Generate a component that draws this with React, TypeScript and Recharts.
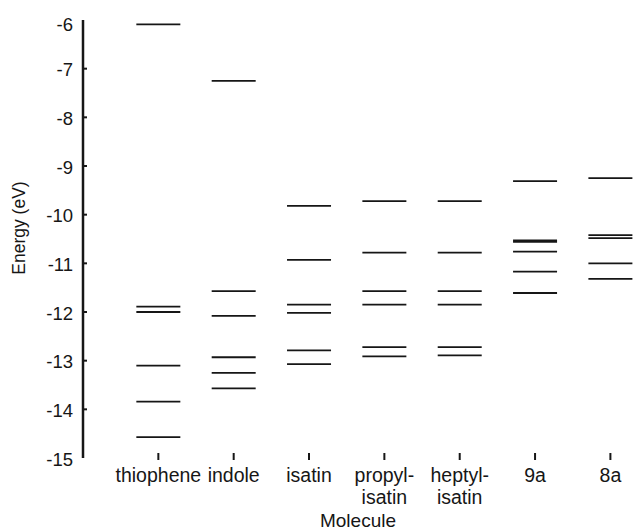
import React from "react";
import { ScatterChart, Scatter, XAxis, YAxis, Label } from "recharts";

// molecule names (newline = second line of the tick label)
const molecules = ["thiophene", "indole", "isatin", "propyl-\nisatin", "heptyl-\nisatin", "9a", "8a"];

// orbital energies in eV
const thiophene = [-6.09, -11.89, -12.0, -13.1, -13.84, -14.57];
const indole = [-7.25, -11.57, -12.08, -12.93, -13.25, -13.57];
const isatin = [-9.82, -10.93, -11.85, -12.02, -12.79, -13.07];
const propylIsatin = [-9.72, -10.78, -11.57, -11.85, -12.72, -12.91];
const heptylIsatin = [-9.72, -10.78, -11.57, -11.85, -12.72, -12.89];
const mol9a = [-9.31, -10.53, -10.56, -10.76, -11.17, -11.61];
const mol8a = [-9.25, -10.42, -10.48, -11.0, -11.32];

const yTicks = [-15, -14, -13, -12, -11, -10, -9, -8, -7, -6];
const xTicks = [1, 2, 3, 4, 5, 6, 7];

const levels = [thiophene, indole, isatin, propylIsatin, heptylIsatin, mol9a, mol8a];
const points = levels.flatMap((vals, i) => vals.map((e) => ({ x: i + 1, y: e })));

const FONT = '"Liberation Sans", Arial, Helvetica, sans-serif';
const INK = "#161616";

const LevelLine = (props: any) => {
  const { cx, cy } = props;
  return <line x1={cx - 22} x2={cx + 22} y1={cy} y2={cy} stroke={INK} strokeWidth={1.8} />;
};

const YTick = (props: any) => {
  const { x, y, payload } = props;
  const v = payload.value;
  const edge = v === -15 || v === -6;
  return (
    <g>
      {!edge && <line x1={x} x2={x + 4} y1={y} y2={y} stroke={INK} strokeWidth={2} />}
      <text x={x - 10} y={y} dy={v === -6 ? 4 : 1} textAnchor="end" dominantBaseline="central"
        fontFamily={FONT} fontSize={18.5} fill={INK}>
        {v}
      </text>
    </g>
  );
};

const XTick = (props: any) => {
  const { x, y, payload } = props;
  const lines = molecules[payload.value - 1].split("\n");
  return (
    <g>
      <line x1={x} x2={x} y1={y - 5} y2={y + 2} stroke={INK} strokeWidth={2} />
      {lines.map((t, i) => (
        <text key={i} x={x} y={y + 24 + i * 21.5} textAnchor="middle" fontFamily={FONT} fontSize={19.5} fill={INK}>
          {t}
        </text>
      ))}
    </g>
  );
};

export default function App() {
  return (
    <div style={{ position: "absolute", left: 0, top: 0, width: 634, height: 532, background: "#fff" }}>
      <ScatterChart width={634} height={532} margin={{ top: 20, right: 1, bottom: 0, left: 0 }}>
        <XAxis type="number" dataKey="x" domain={[0, 7.3]} ticks={xTicks} interval={0}
          axisLine={false} tickLine={false} tickSize={0} tickMargin={0} height={74} tick={<XTick />}>
          <Label value="Molecule" position="insideBottom" offset={5}
            style={{ fontFamily: FONT, fontSize: 19, fill: INK }} />
        </XAxis>
        <YAxis type="number" dataKey="y" domain={[-15, -6]} ticks={yTicks} interval={0} width={83}
          axisLine={{ stroke: INK, strokeWidth: 2.5 }} tickLine={false} tickSize={0} tickMargin={0} tick={<YTick />}>
          <Label
            content={(p: any) => {
              const vb = p.viewBox;
              const cy = vb.y + vb.height / 2 - 11;
              return (
                <text x={25} y={cy} transform={`rotate(-90 25 ${cy})`} textAnchor="middle"
                  fontFamily={FONT} fontSize={17.5} fill={INK}>
                  Energy (eV)
                </text>
              );
            }}
          />
        </YAxis>
        <Scatter data={points} shape={<LevelLine />} isAnimationActive={false} />
      </ScatterChart>
    </div>
  );
}
